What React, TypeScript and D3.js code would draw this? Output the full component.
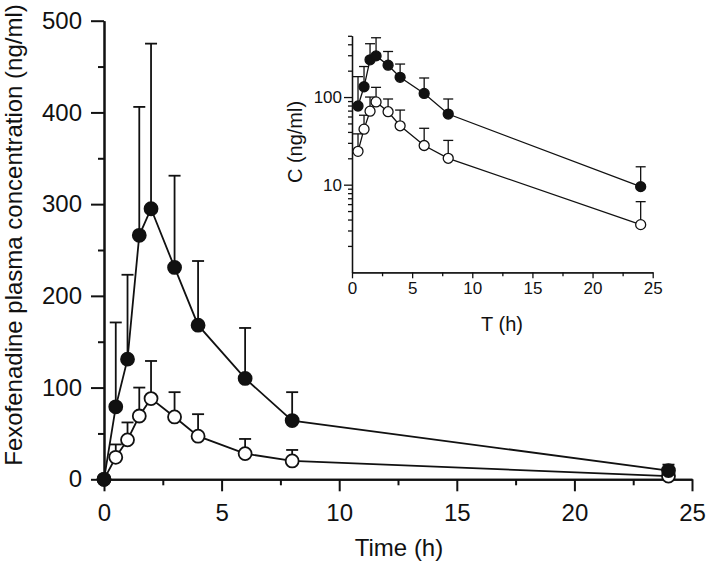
import React, { useEffect, useRef } from "react";
import * as d3 from "d3";

// sampling times (h)
const times = [0, 0.5, 1, 1.5, 2, 3, 4, 6, 8, 24];
// filled circles: mean and SD
const filledMean = [0, 79, 131, 266, 295, 231, 168, 110, 64, 9.5];
const filledSD = [0, 92, 92, 140, 180, 100, 70, 55, 31, 6.5];
// open circles: mean and SD
const openMean = [0, 24, 43, 69, 88, 68, 47, 28, 20, 3.5];
const openSD = [0, 14, 19, 31, 41, 27, 24, 16, 12, 2.9];

const mainYTicks = [0, 100, 200, 300, 400, 500];
const mainYMinor = [50, 150, 250, 350, 450];
const xTicks = [0, 5, 10, 15, 20, 25];
const xMinor = [2.5, 7.5, 12.5, 17.5, 22.5];
const insetYTicks = [10, 100];
const insetYMinor = [2, 3, 4, 5, 6, 7, 8, 9, 20, 30, 40, 50, 60, 70, 80, 90, 200, 300, 400, 500];

const FONT = "'Liberation Sans', Arial, sans-serif";

interface Pt {
  t: number;
  m: number;
  sd: number;
}

const makeSeries = (mean: number[], sd: number[]): Pt[] =>
  times.map((t, i) => ({ t, m: mean[i], sd: sd[i] }));

const App: React.FC = () => {
  const svgRef = useRef<SVGSVGElement>(null);

  useEffect(() => {
    const svg = d3.select(svgRef.current);
    svg.selectAll("*").remove();

    const filled = makeSeries(filledMean, filledSD);
    const open = makeSeries(openMean, openSD);

    // ---- main plot ----
    const x = d3.scaleLinear().domain([0, 25]).range([104, 692]);
    const y = d3.scaleLinear().domain([0, 500]).range([479.3, 20.7]);

    const drawAxis = (
      g: d3.Selection<SVGGElement, unknown, null, undefined>,
      axis: d3.Axis<number>,
      fontSize: number,
      width: number
    ) => {
      g.call(axis as any);
      g.selectAll("path.domain").attr("stroke", "#111").attr("stroke-width", width);
      g.selectAll(".tick line").attr("stroke", "#111").attr("stroke-width", width);
      g.selectAll(".tick text")
        .attr("fill", "#111")
        .style("font-family", FONT)
        .style("font-size", `${fontSize}px`);
    };

    const gx = svg.append("g").attr("transform", `translate(0,${y(0)})`);
    drawAxis(
      gx,
      d3.axisBottom(x).tickValues(xMinor).tickSize(6).tickSizeOuter(0).tickFormat(() => "") as any,
      24,
      2
    );
    const gx2 = svg.append("g").attr("transform", `translate(0,${y(0)})`);
    drawAxis(
      gx2,
      d3.axisBottom(x).tickValues(xTicks).tickSize(12).tickSizeOuter(0).tickPadding(13).tickFormat(d3.format("d")) as any,
      24,
      2
    );

    const gy = svg.append("g").attr("transform", `translate(${x(0)},0)`);
    drawAxis(
      gy,
      d3.axisLeft(y).tickValues(mainYMinor).tickSize(6).tickSizeOuter(0).tickFormat(() => "") as any,
      24,
      2
    );
    const gy2 = svg.append("g").attr("transform", `translate(${x(0)},0)`);
    drawAxis(
      gy2,
      d3.axisLeft(y).tickValues(mainYTicks).tickSize(13).tickSizeOuter(0).tickPadding(9).tickFormat(d3.format("d")) as any,
      24,
      2
    );

    svg
      .append("text")
      .attr("x", 399)
      .attr("y", 556)
      .attr("text-anchor", "middle")
      .style("font-family", FONT)
      .style("font-size", "24px")
      .attr("fill", "#111")
      .text("Time (h)");

    svg
      .append("text")
      .attr("transform", `translate(22,235) rotate(-90)`)
      .attr("text-anchor", "middle")
      .style("font-family", FONT)
      .style("font-size", "24px")
      .attr("fill", "#111")
      .text("Fexofenadine plasma concentration (ng/ml)");

    const drawSeries = (
      data: Pt[],
      fill: string,
      xs: d3.ScaleLinear<number, number>,
      ys: (v: number) => number,
      r: number,
      cap: number,
      lw: number
    ) => {
      const g = svg.append("g");
      const line = d3
        .line<Pt>()
        .x((d) => xs(d.t))
        .y((d) => ys(d.m));
      g.append("path")
        .attr("d", line(data))
        .attr("fill", "none")
        .attr("stroke", "#111")
        .attr("stroke-width", lw);
      const eb = g
        .selectAll(".eb")
        .data(data.filter((d) => d.sd > 0))
        .enter()
        .append("g");
      eb.append("line")
        .attr("x1", (d) => xs(d.t))
        .attr("x2", (d) => xs(d.t))
        .attr("y1", (d) => ys(d.m))
        .attr("y2", (d) => ys(d.m + d.sd))
        .attr("stroke", "#111")
        .attr("stroke-width", lw);
      eb.append("line")
        .attr("x1", (d) => xs(d.t) - cap / 2)
        .attr("x2", (d) => xs(d.t) + cap / 2)
        .attr("y1", (d) => ys(d.m + d.sd))
        .attr("y2", (d) => ys(d.m + d.sd))
        .attr("stroke", "#111")
        .attr("stroke-width", lw);
      g.selectAll("circle")
        .data(data)
        .enter()
        .append("circle")
        .attr("cx", (d) => xs(d.t))
        .attr("cy", (d) => ys(d.m))
        .attr("r", r)
        .attr("fill", fill)
        .attr("stroke", "#111")
        .attr("stroke-width", lw);
    };

    drawSeries(open, "#fff", x, y, 6.5, 12, 1.8);
    drawSeries(filled, "#111", x, y, 6.5, 12, 1.8);

    // ---- inset (log scale) ----
    const xi = d3.scaleLinear().domain([0, 25]).range([352, 652.7]);
    const yi = d3.scaleLog().domain([1, 500]).range([272.3, 35.8]);

    const ix = svg.append("g").attr("transform", `translate(0,${yi(1)})`);
    drawAxis(
      ix,
      d3.axisBottom(xi).tickValues(xMinor).tickSize(4).tickSizeOuter(0).tickFormat(() => "") as any,
      17,
      1.3
    );
    const ix2 = svg.append("g").attr("transform", `translate(0,${yi(1)})`);
    drawAxis(
      ix2,
      d3.axisBottom(xi).tickValues(xTicks).tickSize(6).tickSizeOuter(0).tickPadding(4).tickFormat(d3.format("d")) as any,
      17,
      1.3
    );
    const iy = svg.append("g").attr("transform", `translate(${xi(0)},0)`);
    drawAxis(
      iy,
      d3.axisLeft(yi).tickValues(insetYMinor).tickSize(4).tickSizeOuter(0).tickFormat(() => "") as any,
      17,
      1.3
    );
    const iy2 = svg.append("g").attr("transform", `translate(${xi(0)},0)`);
    drawAxis(
      iy2,
      d3.axisLeft(yi).tickValues(insetYTicks).tickSize(8).tickSizeOuter(0).tickPadding(2).tickFormat(d3.format("d")) as any,
      17,
      1.3
    );

    svg
      .append("text")
      .attr("x", 502)
      .attr("y", 331)
      .attr("text-anchor", "middle")
      .style("font-family", FONT)
      .style("font-size", "20px")
      .attr("fill", "#111")
      .text("T (h)");

    svg
      .append("text")
      .attr("transform", `translate(302,142) rotate(-90)`)
      .attr("text-anchor", "middle")
      .style("font-family", FONT)
      .style("font-size", "20px")
      .attr("fill", "#111")
      .text("C (ng/ml)");

    drawSeries(open.filter((d) => d.t > 0), "#fff", xi, yi, 5, 10, 1.3);
    drawSeries(filled.filter((d) => d.t > 0), "#111", xi, yi, 5, 10, 1.3);
  }, []);

  return (
    <div style={{ position: "absolute", left: 0, top: 0, width: 709, height: 565 }}>
      <svg ref={svgRef} width={709} height={565} style={{ display: "block", background: "#fff" }}></svg>
    </div>
  );
};

export default App;
